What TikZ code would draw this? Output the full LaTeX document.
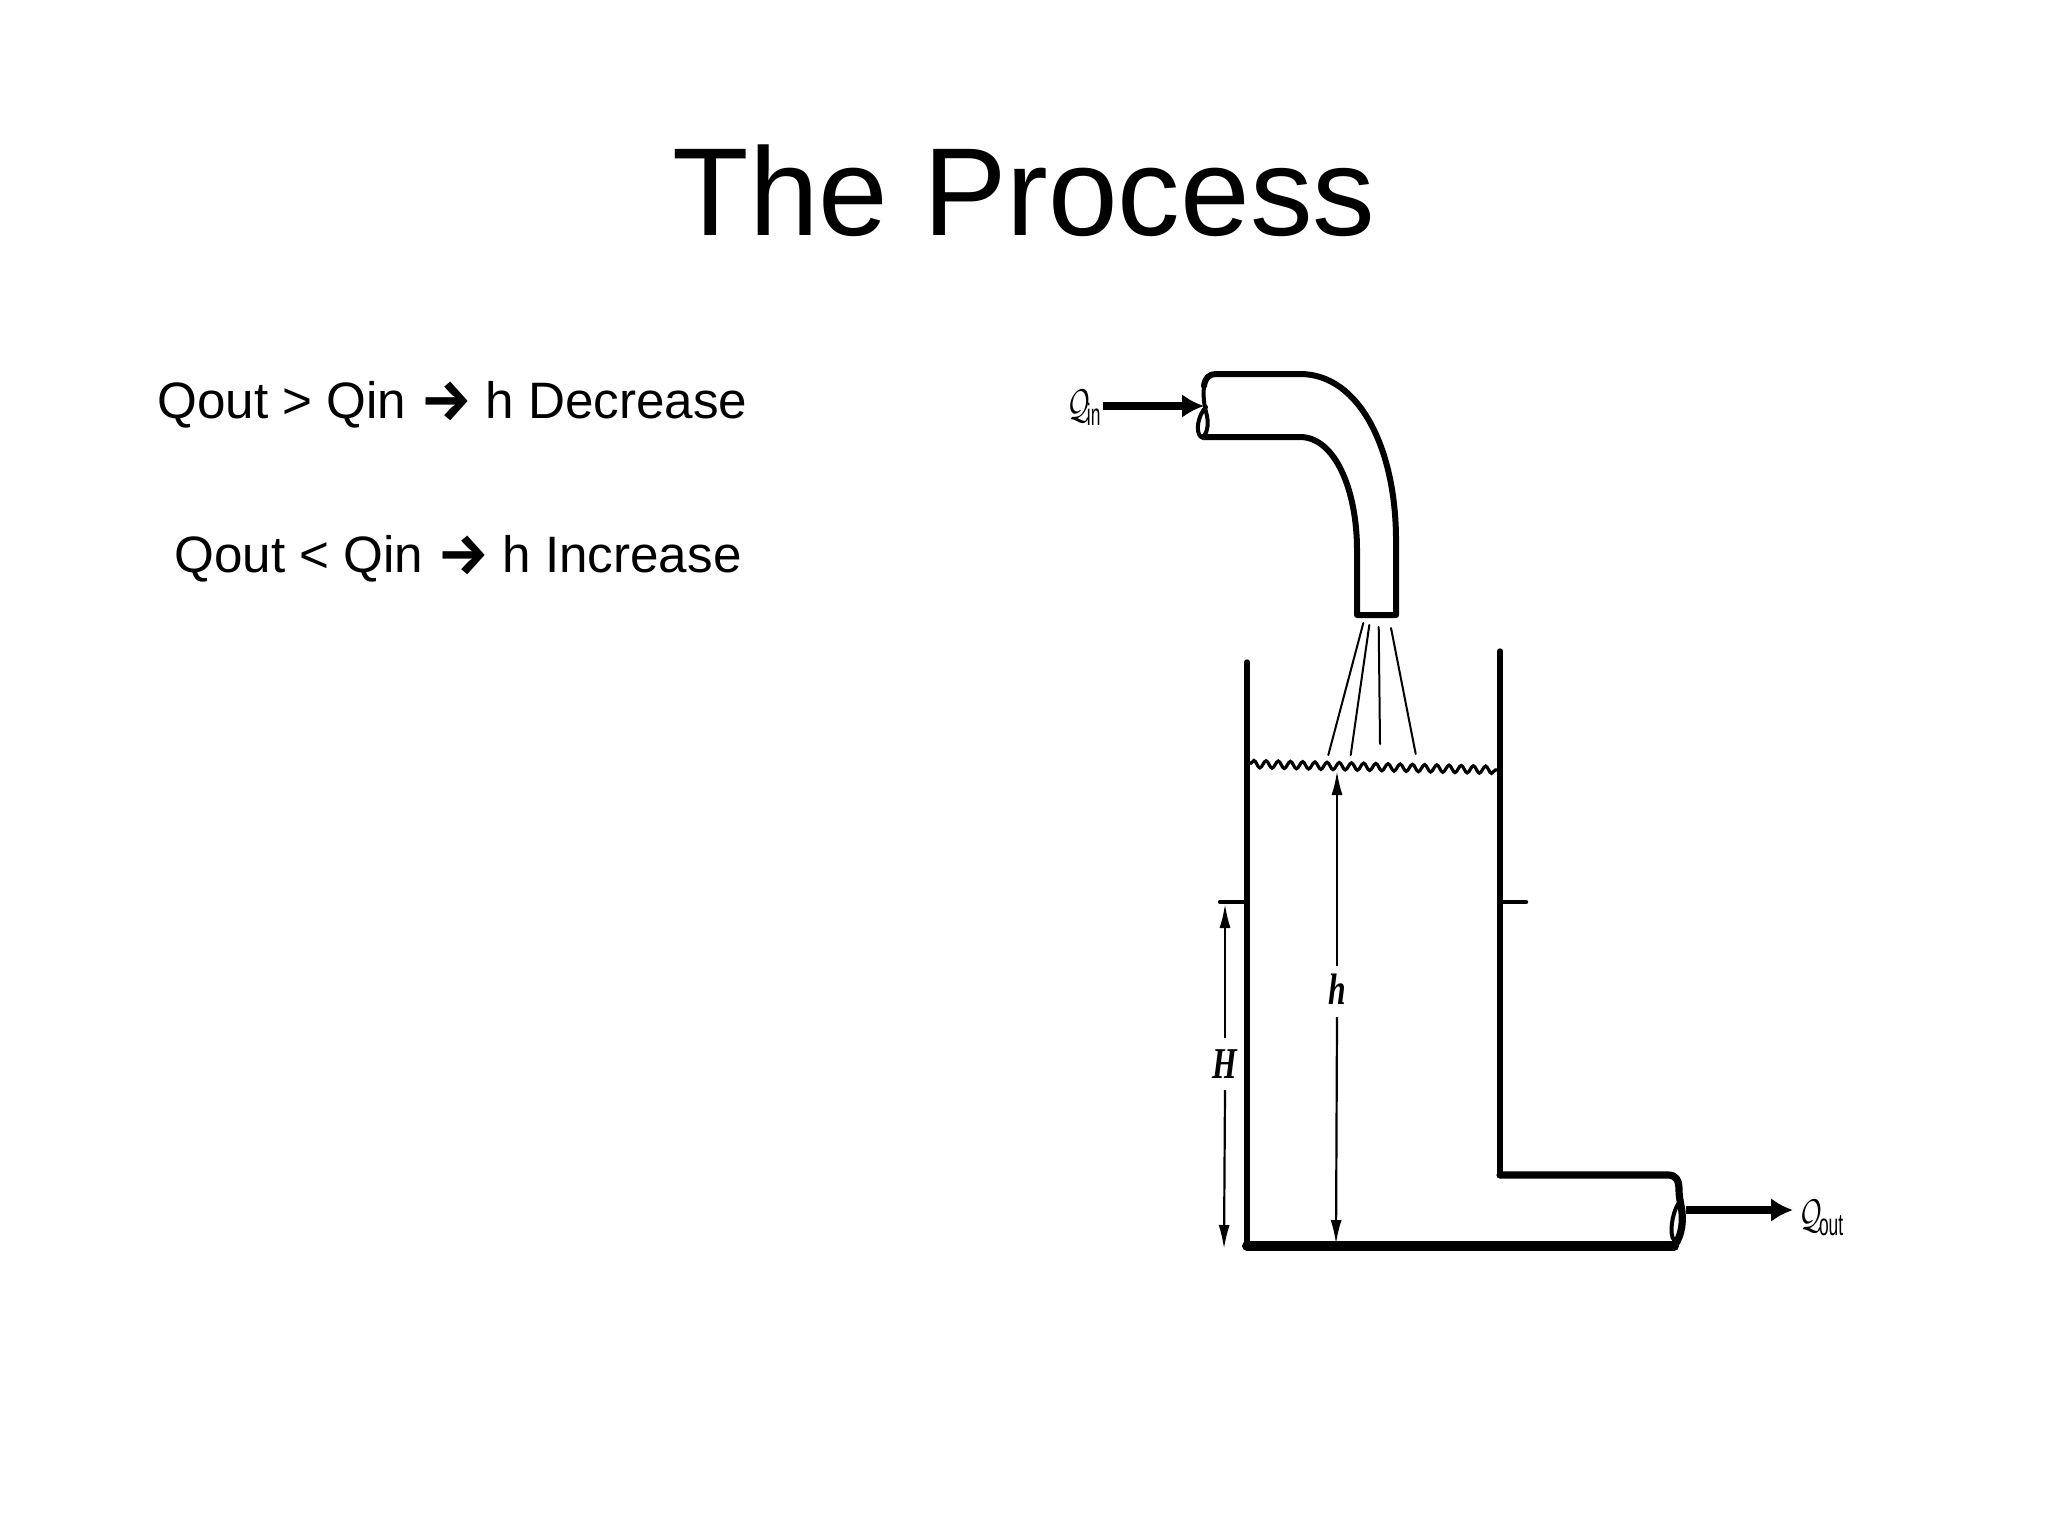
\documentclass[tikz,border=0pt]{standalone}
\usepackage{fontspec}
\setmainfont{Liberation Sans}
\newfontfamily\arrowfont{Fira Sans}
\newfontfamily\labelfont{Liberation Serif}
\usetikzlibrary{arrows.meta,decorations.pathmorphing}
\tikzset{
  px/.style={x=0.5pt,y=-0.5pt},
  thickline/.style={line width=3pt,line cap=round,line join=round},
  heavyline/.style={line width=3.6pt,line cap=round,line join=round},
  baseline wall/.style={line width=5pt,line cap=round},
  wall/.style={line width=2.7pt,line cap=round,line join=round},
  cuff/.style={line width=2pt,line cap=round},
  tab/.style={line width=2.2pt,line cap=round},
  spray/.style={line width=1pt,line cap=round},
  dimdown/.style={line width=1.1pt,-{Latex[length=12pt,width=5.5pt]}},
  dimup/.style={line width=1.1pt,{Latex[length=12pt,width=5.5pt]}-},
  flow/.style={line width=3.8pt,-{Latex[length=11pt,width=12pt]}},
  heading/.style={font=\fontsize{62.6}{70}\selectfont,anchor=base,inner sep=0pt},
  body/.style={font=\fontsize{25.6}{30}\selectfont,anchor=base west,inner sep=0pt},
  lbl/.style={font=\labelfont\itshape\bfseries\fontsize{22}{24}\selectfont,inner sep=0pt},
  flowlbl/.style={inner sep=0pt,anchor=base west}
}
\newcommand{\flowQ}[1]{\scalebox{0.8}[1.2]{\fontsize{19}{20}\selectfont$\mathcal{Q}$}\kern-1.5pt\raisebox{-3.5pt}{\scalebox{0.62}[1.1]{\fontsize{14}{16}\selectfont #1}}}
\newcommand{\goesto}{\raisebox{-1pt}{\fontsize{29}{31}\arrowfont\bfseries\selectfont →}\kern-0.8pt}
\newcommand{\narrow}[1]{\scalebox{0.72}[1]{#1}}
\begin{document}
\begin{tikzpicture}[px]
\useasboundingbox (0,0) rectangle (2048,1536);
\fill[white] (0,0) rectangle (2048,1536);
\node[heading] (title) at (1024,235) {The Process};
\node[body] (r1) at (157,418) {Qout > Qin \goesto{} h Decrease};
\node[body] (r2) at (174,572) {Qout < Qin \goesto{} h Increase};
% inlet pipe
\draw[thickline] (1204,386) .. controls (1205,378) and (1209,374) .. (1216,374)
  -- (1300,374) .. controls (1360,374) and (1396,450) .. (1396,540) -- (1396,615)
  -- (1357,615) -- (1357,550) .. controls (1357,490) and (1335,437) .. (1300,437)
  -- (1203,437);
\draw[cuff] (1204,386) .. controls (1203,396) and (1204,404) .. (1206,412)
  .. controls (1209,422) and (1208,432) .. (1203,437);
\draw[cuff] (1206,407) .. controls (1198,415) and (1195,432) .. (1201,437);
% spray
\draw[spray] (1363.3,623) -- (1328.3,755);
\draw[spray] (1369.3,625) -- (1350.7,755);
\draw[spray] (1378.7,627) -- (1380,744);
\draw[spray] (1391,628) -- (1415.7,754);
% tank
\draw[wall] (1247,662) -- (1247,1244);
\draw[baseline wall] (1247,1246) -- (1674,1246);
\draw[wall] (1500,651) -- (1500,1175);
\draw[heavyline] (1500,1175) -- (1668,1175) .. controls (1676,1175) and (1679,1180) .. (1679,1190)
  .. controls (1679,1196) and (1680,1200) .. (1681,1206) .. controls (1684,1220) and (1682,1236) .. (1674,1246);
\draw[cuff] (1678,1204) .. controls (1672,1214) and (1669,1234) .. (1674,1240);
\draw[tab] (1220,902) -- (1247,902);
\draw[tab] (1500,902) -- (1526,902);
% water surface
\draw[line width=1.6pt,decorate,decoration={snake,segment length=6.1pt,amplitude=1.8pt}] (1250,764) -- (1499,770);
% dimensions
\coordinate (Htop) at (1225,904);
\coordinate (Hbot) at (1224,1249);
\node[lbl] (Hlabel) at (1225,1064) {\narrow{H}};
\draw[dimup] (Htop) -- (Hlabel.north |- 0,1038);
\draw[dimdown] (Hlabel.south |- 0,1090) -- (Hbot);
\coordinate (htop) at (1337,771);
\coordinate (hbot) at (1336,1244);
\node[lbl] (hlabel) at (1337,989) {\narrow{h}};
\draw[dimup] (htop) -- (hlabel.north |- 0,966);
\draw[dimdown] (hlabel.south |- 0,1017) -- (hbot);
% flows
\coordinate (inS) at (1103,406);
\coordinate (inE) at (1204,406);
\draw[flow] (inS) -- (inE);
\node[flowlbl] (qin) at (1067,418) {\flowQ{in}};
\coordinate (outS) at (1686,1210);
\coordinate (outE) at (1793,1210);
\draw[flow] (outS) -- (outE);
\node[flowlbl] (qout) at (1799,1228) {\flowQ{out}};
\end{tikzpicture}
\end{document}
